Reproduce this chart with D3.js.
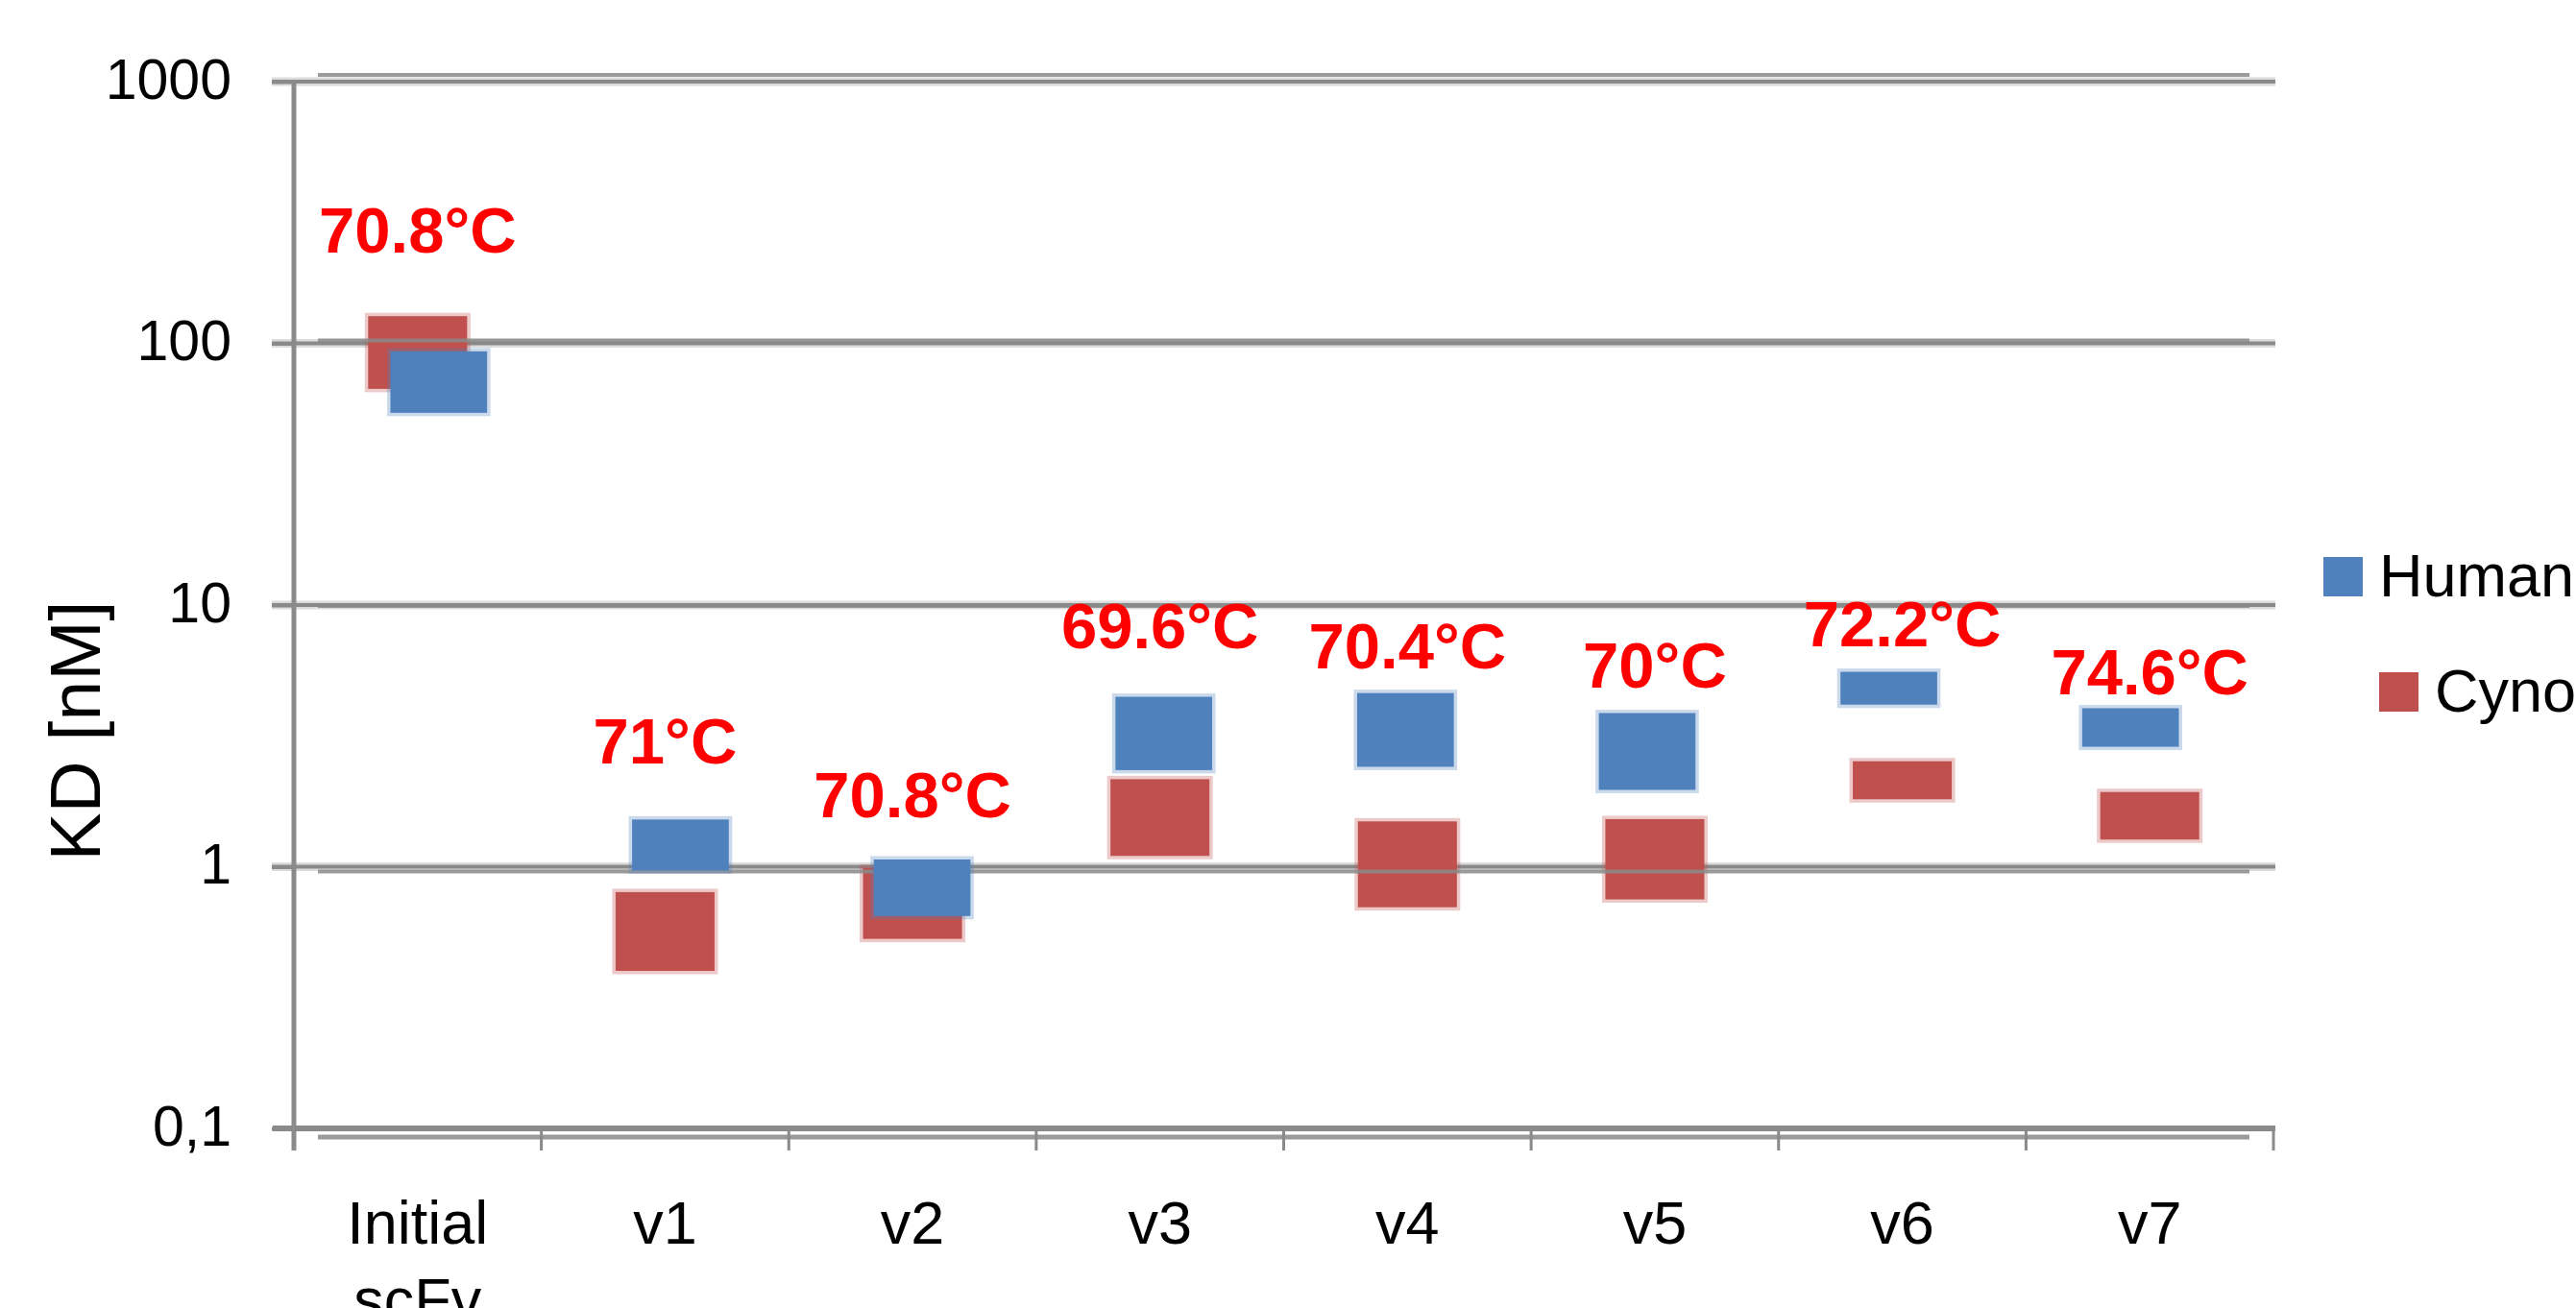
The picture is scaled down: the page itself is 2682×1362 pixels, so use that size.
<html>
  <meta charset="utf-8">
  <head>
  <style>
    body {
      margin: 0;
      background: #fff;
    }
    text {
      font-family: "Liberation Sans", Arial, sans-serif;
    }
  </style>
  </head>
  <body>
    <div id="chart"></div>

    <script src="https://d3js.org/d3.v7.min.js"></script>
    <script>

    'use strict';

    // KD ranges (nM)
    var categories = ['Initial scFv', 'v1', 'v2', 'v3', 'v4', 'v5', 'v6', 'v7'];
    var humanLow  = [53.4, 1.01, 0.68, 2.41, 2.48, 2.03, 4.25, 2.95];
    var humanHigh = [91, 1.57, 1.11, 4.55, 4.70, 3.95, 5.65, 4.12];
    var cynoLow   = [67, 0.40, 0.53, 1.10, 0.70, 0.75, 1.81, 1.27];
    var cynoHigh  = [127, 0.80, 0.99, 2.16, 1.49, 1.52, 2.53, 1.93];

    // melting temperatures, and the KD level their baseline sits at
    var tmLabels = ['70.8°C', '71°C', '70.8°C', '69.6°C', '70.4°C', '70°C', '72.2°C', '74.6°C'];
    var tmLabelAt = [222, 2.47, 1.55, 6.86, 5.74, 4.85, 6.97, 4.57];

    var yTicks = [0.1, 1, 10, 100, 1000];
    var yTickLabels = ['0,1', '1', '10', '100', '1000'];

    var series = [
      {name: 'Human', color: '#4f81bd', low: humanLow, high: humanHigh},
      {name: 'Cyno', color: '#c0504d', low: cynoLow, high: cynoHigh}
    ];

    var W = 2682, H = 1362;
    var gray = '#8a8a8a', halo = '#dcdcdc';

    // main plot (Cyno + axes) and the slightly offset copy Human was drawn on
    var x = d3.scaleBand().domain(categories).range([306, 2367]);
    var y = d3.scaleLog().domain([0.1, 1000]).range([1175, 85]);
    var xG = d3.scaleBand().domain(categories).range([331, 2344]);
    var yG = d3.scaleLog().domain([0.1, 1000]).range([1184, 78]);

    var svg = d3.select('#chart').append('svg')
      .attr('width', W)
      .attr('height', H);

    // main gridlines
    var grid = svg.append('g');
    grid.selectAll('line.halo')
      .data(yTicks.slice(1))
      .enter().append('line')
        .attr('x1', 283).attr('x2', 2369)
        .attr('y1', d => y(d)).attr('y2', d => y(d))
        .attr('stroke', halo).attr('stroke-width', 9);
    grid.selectAll('line.g')
      .data(yTicks.slice(1))
      .enter().append('line')
        .attr('x1', 283).attr('x2', 2369)
        .attr('y1', d => y(d)).attr('y2', d => y(d))
        .attr('stroke', gray).attr('stroke-width', 4);

    function boxes(s, xs, ys, g) {
      var bw = xs.bandwidth() * 0.4;
      g.selectAll('rect')
        .data(categories)
        .enter().append('rect')
          .attr('x', d => xs(d) + xs.bandwidth() / 2 - bw / 2)
          .attr('width', bw)
          .attr('y', (d, i) => ys(s.high[i]))
          .attr('height', (d, i) => ys(s.low[i]) - ys(s.high[i]))
          .attr('fill', s.color)
          .attr('stroke', s.color)
          .attr('stroke-opacity', 0.3)
          .attr('stroke-width', 7)
          .attr('paint-order', 'stroke');
    }

    boxes(series[1], x, y, svg.append('g'));

    // ghost gridlines
    var ghost = svg.append('g');
    ghost.selectAll('line')
      .data(yTicks)
      .enter().append('line')
        .attr('x1', 331).attr('x2', 2342)
        .attr('y1', d => yG(d)).attr('y2', d => yG(d))
        .attr('stroke', gray)
        .attr('stroke-opacity', 0.85)
        .attr('stroke-width', d => d === 0.1 ? 5 : 4);

    boxes(series[0], xG, yG, svg.append('g'));

    // axes
    svg.append('line')
      .attr('x1', 284).attr('x2', 2369)
      .attr('y1', y(0.1)).attr('y2', y(0.1))
      .attr('stroke', gray).attr('stroke-width', 6);
    svg.append('line')
      .attr('x1', 306).attr('x2', 306)
      .attr('y1', 87).attr('y2', 1198)
      .attr('stroke', gray).attr('stroke-width', 5);

    svg.append('g').selectAll('line')
      .data(d3.range(categories.length + 1))
      .enter().append('line')
        .attr('x1', i => x.range()[0] + i * x.step())
        .attr('x2', i => x.range()[0] + i * x.step())
        .attr('y1', y(0.1)).attr('y2', 1198)
        .attr('stroke', gray).attr('stroke-width', 3);

    var yAxis = d3.axisLeft(y)
      .tickValues(yTicks)
      .tickFormat((d, i) => yTickLabels[i])
      .tickSize(23)
      .tickPadding(42);
    var ya = svg.append('g')
      .attr('transform', 'translate(306,0)')
      .call(yAxis);
    ya.select('.domain').remove();
    ya.selectAll('.tick line').attr('stroke', gray).attr('stroke-width', 4);
    ya.selectAll('.tick text')
      .attr('font-family', '"Liberation Sans", Arial, sans-serif')
      .attr('font-size', 59)
      .attr('fill', '#000')
      .attr('dy', null)
      .attr('y', 17);

    var xAxis = d3.axisBottom(x).tickSize(0);
    var xa = svg.append('g')
      .attr('transform', 'translate(0,' + y(0.1) + ')')
      .call(xAxis);
    xa.select('.domain').remove();
    xa.selectAll('.tick text')
      .attr('font-family', '"Liberation Sans", Arial, sans-serif')
      .attr('font-size', 63)
      .attr('fill', '#000')
      .attr('dy', null)
      .attr('y', 120)
      .text(null)
      .each(function(d) {
        var words = d.split(' ');
        var t = d3.select(this);
        words.forEach((w, k) => {
          t.append('tspan').attr('x', 0).attr('dy', k ? 80 : 0).text(w);
        });
      });

    // y title
    svg.append('text')
      .attr('transform', 'translate(104,761) rotate(-90)')
      .attr('text-anchor', 'middle')
      .attr('font-size', 75)
      .attr('fill', '#000')
      .text('KD [nM]');

    // Tm labels
    svg.append('g').selectAll('text')
      .data(categories)
      .enter().append('text')
        .attr('x', d => x(d) + x.bandwidth() / 2)
        .attr('y', (d, i) => y(tmLabelAt[i]))
        .attr('text-anchor', 'middle')
        .attr('font-size', 67)
        .attr('font-weight', 'bold')
        .attr('fill', '#ff0000')
        .text((d, i) => tmLabels[i]);

    // legend
    var legPos = [[2419, 580], [2477, 700]];
    var leg = svg.append('g').selectAll('g')
      .data(series)
      .enter().append('g')
        .attr('transform', (d, i) => 'translate(' + legPos[i][0] + ',' + legPos[i][1] + ')');
    leg.append('rect')
      .attr('width', 41).attr('height', 41)
      .attr('fill', d => d.color);
    leg.append('text')
      .attr('x', 58).attr('y', 41)
      .attr('font-size', 63)
      .attr('fill', '#000')
      .text(d => d.name);

    </script>
  </body>
</html>
